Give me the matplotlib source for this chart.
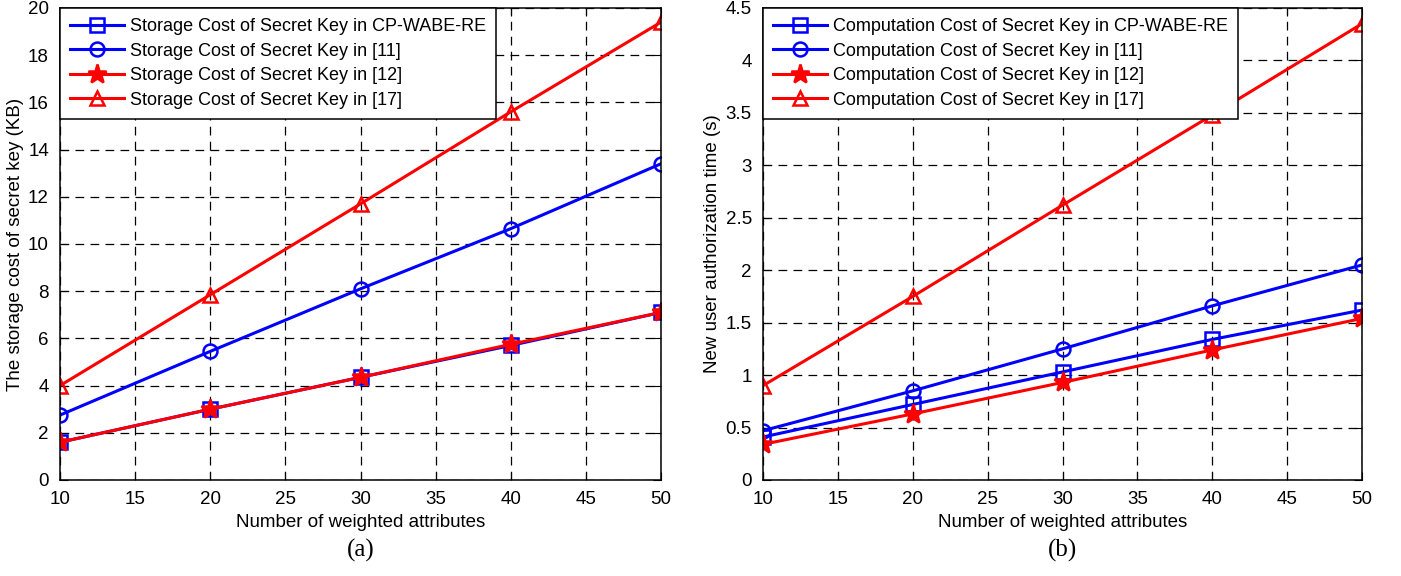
import matplotlib
matplotlib.use("Agg")
import matplotlib.pyplot as plt

x = [10, 20, 30, 40, 50]

# (a) storage cost of secret key (KB)
stor_ours = [1.6, 3.0, 4.35, 5.7, 7.1]
stor_11 = [2.75, 5.45, 8.1, 10.65, 13.4]
stor_12 = [1.6, 3.0, 4.35, 5.75, 7.1]
stor_17 = [4.0, 7.85, 11.7, 15.6, 19.4]

# (b) computation cost (s)
comp_ours = [0.41, 0.72, 1.03, 1.34, 1.62]
comp_11 = [0.47, 0.85, 1.25, 1.66, 2.05]
comp_12 = [0.34, 0.63, 0.93, 1.24, 1.54]
comp_17 = [0.9, 1.75, 2.62, 3.48, 4.35]

plt.rcParams['font.family'] = ['Liberation Sans', 'DejaVu Sans']
plt.rcParams['font.size'] = 13

fig = plt.figure(figsize=(14.01, 5.76), dpi=100)
ax1 = fig.add_axes([60/1401, 1-480/576, 601/1401, 472/576])
ax2 = fig.add_axes([763/1401, 1-480/576, 599/1401, 472/576])


def draw(ax, series, prefix, ylim, yticks, ylabel, tag):
    styles = [('b', 's', 'CP-WABE-RE'), ('b', 'o', '[11]'),
              ('r', '*', '[12]'), ('r', '^', '[17]')]
    for ys, (c, m, name) in zip(series, styles):
        ms = 14 if m == '*' else 10
        ax.plot(x, ys, color=c, marker=m, markersize=ms, lw=2.2,
                markerfacecolor=(c if m == '*' else 'none'),
                markeredgewidth=1.8, label=f'{prefix} {name}')
    ax.set_xlim(10, 50)
    ax.set_ylim(*ylim)
    ax.set_xticks(range(10, 51, 5))
    ax.set_yticks(yticks)
    ax.set_yticklabels([f'{t:g}' for t in yticks])
    ax.grid(True, color='k', linestyle=(0, (7, 5)), lw=0.9)
    ax.tick_params(direction='in', top=True, right=True, length=6,
                   labelsize=13.5, pad=8)
    for s in ax.spines.values():
        s.set_linewidth(1.1)
    ax.set_xlabel('Number of weighted attributes', fontsize=13.5, labelpad=4)
    ax.set_ylabel(ylabel, fontsize=13.5, labelpad=3)
    leg = ax.legend(loc='upper left', fontsize=13, fancybox=False,
                    framealpha=1, edgecolor='k', borderaxespad=0,
                    handlelength=3.0, labelspacing=0.42, borderpad=0.55,
                    handletextpad=0.35)
    leg.get_frame().set_linewidth(1.1)
    ax.text(0.5, -0.15, tag, transform=ax.transAxes, ha='center',
            va='center', fontsize=18, family='Liberation Serif')


draw(ax1, [stor_ours, stor_11, stor_12, stor_17],
     'Storage Cost of Secret Key in', (0, 20), list(range(0, 21, 2)),
     'The storage cost of secret key (KB)', '(a)')
draw(ax2, [comp_ours, comp_11, comp_12, comp_17],
     'Computation Cost of Secret Key in', (0, 4.5),
     [0, 0.5, 1, 1.5, 2, 2.5, 3, 3.5, 4, 4.5],
     'New user authorization time (s)', '(b)')

fig.savefig('out.png', dpi=100)
